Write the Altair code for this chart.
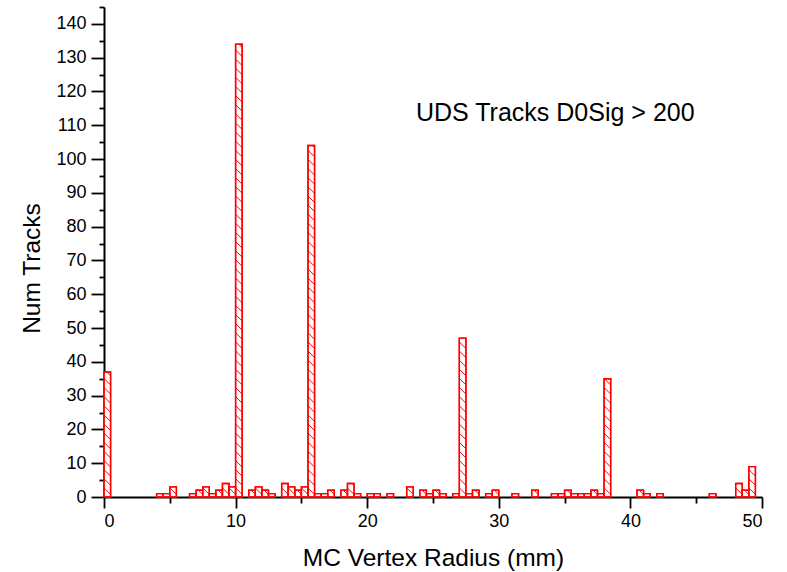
import altair as alt
import pandas as pd

# histogram: 100 bins of 0.5 mm from 0 to 50 mm
bin_width = 0.5
counts = [
    37, 0, 0, 0, 0, 0, 0, 0, 1, 1,
    3, 0, 0, 1, 2, 3, 1, 2, 4, 3,
    134, 0, 2, 3, 2, 1, 0, 4, 3, 2,
    3, 104, 1, 1, 2, 0, 2, 4, 1, 0,
    1, 1, 0, 1, 0, 0, 3, 0, 2, 1,
    2, 1, 0, 1, 47, 1, 2, 0, 1, 2,
    0, 0, 1, 0, 0, 2, 0, 0, 1, 1,
    2, 1, 1, 1, 2, 1, 35, 0, 0, 0,
    0, 2, 1, 0, 1, 0, 0, 0, 0, 0,
    0, 0, 1, 0, 0, 0, 4, 2, 9, 0,
]
x_major = [0, 10, 20, 30, 40, 50]
x_minor = [5, 15, 25, 35, 45]
y_major = list(range(0, 141, 10))
y_minor = list(range(5, 146, 10))
annotation = "UDS Tracks D0Sig > 200"

bars = pd.DataFrame({
    "x0": [i * bin_width for i in range(len(counts))],
    "x1": [(i + 1) * bin_width for i in range(len(counts))],
    "count": counts,
})
bars = bars[bars["count"] > 0].copy()
bars["base"] = 0

# hatch lines ("\" direction) clipped to each bar, in data units
step = 2.7   # vertical spacing of hatch lines (counts)
drop = 1.95  # vertical drop across one bar width (about 45 degrees)
rows = []
for _, r in bars.iterrows():
    c = r["count"]
    k = 1
    while k * step < c + drop:
        yk = k * step
        tmin = max(0.0, (yk - c) / drop)
        tmax = min(1.0, yk / drop)
        if tmax > tmin:
            rows.append({
                "xa": r["x0"] + tmin * bin_width, "ya": yk - tmin * drop,
                "xb": r["x0"] + tmax * bin_width, "yb": yk - tmax * drop,
            })
        k += 1
hatch = pd.DataFrame(rows)

xscale = alt.Scale(domain=[0, 50], nice=False, zero=False, padding=0)
yscale = alt.Scale(domain=[0, 145], nice=False, padding=0)

font = "Liberation Sans"

major_x = alt.Axis(values=x_major, format="d", tickSize=11, labelPadding=4,
                   title="MC Vertex Radius (mm)", titleX=329, titleY=68,
                   titleBaseline="alphabetic", titleAlign="center")
major_y = alt.Axis(values=y_major, format="d", tickSize=13, labelPadding=5,
                   title="Num Tracks", titleAngle=270, titleX=-72, titleY=261,
                   titleAlign="center", titleBaseline="middle")

bar_layer = alt.Chart(bars).mark_bar(fill="white", stroke="red", strokeWidth=1.4).encode(
    x=alt.X("x0:Q", scale=xscale, axis=major_x),
    x2="x1:Q",
    y=alt.Y("count:Q", scale=yscale, axis=major_y),
    y2="base:Q",
)

hatch_layer = alt.Chart(hatch).mark_rule(color="red", strokeWidth=1).encode(
    x=alt.X("xa:Q", scale=xscale, axis=alt.Axis(values=x_minor, labels=False, domain=False,
                                                   tickSize=6, title=None, orient="bottom")),
    x2="xb:Q",
    y=alt.Y("ya:Q", scale=yscale, axis=alt.Axis(values=y_minor, labels=False, domain=False,
                                                   tickSize=5, title=None, orient="left")),
    y2="yb:Q",
)

outline_layer = alt.Chart(bars).mark_bar(fillOpacity=0, stroke="red", strokeWidth=1.4).encode(
    x=alt.X("x0:Q", scale=xscale, axis=None),
    x2="x1:Q",
    y=alt.Y("count:Q", scale=yscale, axis=None),
    y2="base:Q",
)

text_layer = alt.Chart(pd.DataFrame({"t": [annotation]})).mark_text(
    align="left", baseline="middle", font=font, fontSize=25, color="black"
).encode(x=alt.value(312), y=alt.value(106), text="t:N")

chart = alt.layer(bar_layer, hatch_layer, outline_layer, text_layer).resolve_axis(
    x="independent", y="independent"
).properties(
    width=658, height=490,
    autosize=alt.AutoSizeParams(type="none"),
    padding={"left": 104, "top": 7, "right": 25, "bottom": 75},
).configure_view(stroke=None).configure_axis(
    grid=False, domainColor="black", domainWidth=2, tickColor="black", tickWidth=1.8,
    labelFont=font, labelFontSize=18, labelColor="black",
    titleFont=font, titleFontSize=24.5, titleFontWeight="normal", titleColor="black",
)

chart.save("out.html", embed_options={"renderer": "svg", "actions": False})
